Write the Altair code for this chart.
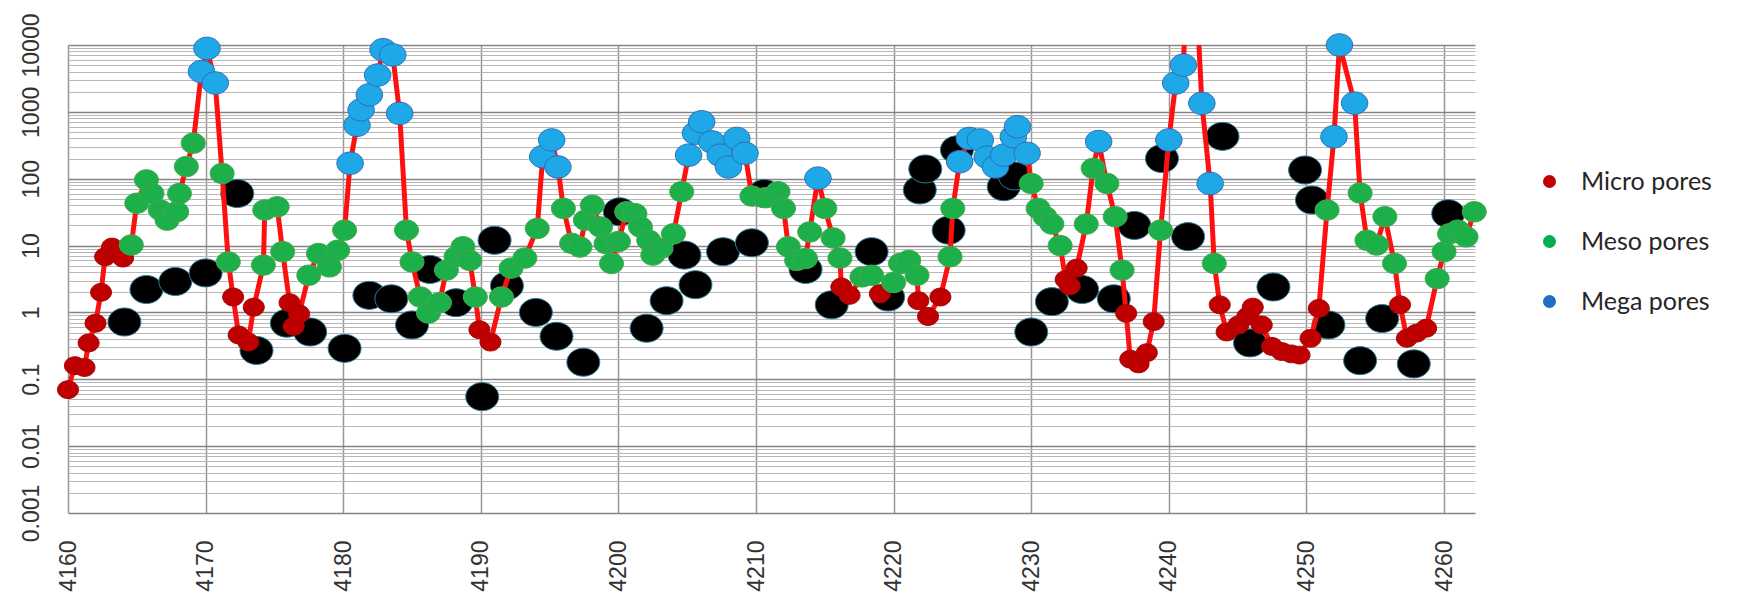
import altair as alt
import pandas as pd

# ---------------- data ----------------
depth = [
    4160.0, 4160.5, 4161.2, 4161.5, 4162.0, 4162.4, 4162.7, 4163.2, 4163.6, 4164.0,
    4164.6, 4165.0, 4165.7, 4166.1, 4166.7, 4167.2, 4167.9, 4168.1, 4168.6, 4169.1,
    4169.7, 4170.1, 4170.7, 4171.2, 4171.65, 4172.0, 4172.4, 4173.1, 4173.5, 4174.2,
    4174.3, 4175.2, 4175.6, 4176.1, 4176.4, 4176.8, 4177.5, 4178.2, 4179.0, 4179.6,
    4180.1, 4180.5, 4181.0, 4181.3, 4181.9, 4182.5, 4182.9, 4183.6, 4184.1, 4184.6,
    4185.0, 4185.6, 4186.2, 4187.0, 4187.5, 4188.2, 4188.7, 4189.2, 4189.6, 4189.9,
    4190.7, 4191.5, 4192.2, 4193.2, 4194.1, 4194.5, 4195.15, 4195.6, 4196.0, 4196.6,
    4197.2, 4197.6, 4198.1, 4198.7, 4199.1, 4199.5, 4200.0, 4200.6, 4201.2, 4201.6,
    4202.2, 4202.5, 4203.1, 4204.0, 4204.6, 4205.1, 4205.6, 4206.05, 4206.8, 4207.4,
    4208.0, 4208.6, 4209.2, 4209.7, 4210.7, 4211.6, 4212.0, 4212.35, 4212.95, 4213.6,
    4213.9, 4214.5, 4215.0, 4215.6, 4216.1, 4216.2, 4216.8, 4217.7, 4218.4, 4219.0,
    4220.0, 4220.5, 4221.1, 4221.7, 4221.8, 4222.5, 4223.4, 4224.1, 4224.3, 4224.8,
    4225.5, 4226.3, 4226.8, 4227.4, 4228.0, 4228.7, 4229.0, 4229.7, 4230.0, 4230.5,
    4231.0, 4231.5, 4232.1, 4232.5, 4232.8, 4233.3, 4234.0, 4234.5, 4234.9, 4235.5,
    4236.1, 4236.6, 4236.9, 4237.2, 4237.8, 4238.4, 4238.9, 4239.4, 4240.0, 4240.5,
    4241.06, 4241.3, 4241.95, 4242.4, 4243.0, 4243.3, 4243.7, 4244.2, 4245.05, 4245.7,
    4246.1, 4246.75, 4247.5, 4248.2, 4248.9, 4249.5, 4250.3, 4250.9, 4251.5, 4252.0,
    4252.4, 4253.5, 4253.9, 4254.4, 4255.1, 4255.7, 4256.4, 4256.8, 4257.3, 4258.0,
    4258.7, 4259.5, 4260.0, 4260.4, 4261.0, 4261.6, 4262.2,
]
value = [
    0.07, 0.16, 0.15, 0.35, 0.69, 2.0, 6.8, 9.5, 8.0, 6.5,
    10.2, 43, 96, 60, 34, 24, 32, 60, 152, 340,
    4000, 8900, 2700, 120, 5.7, 1.7, 0.46, 0.36, 1.2, 5.1,
    34, 38, 8.1, 1.4, 0.62, 0.95, 3.6, 7.6, 4.8, 8.5,
    17, 170, 630, 1070, 1800, 3550, 8500, 7100, 950, 17,
    5.7, 1.7, 0.98, 1.4, 4.3, 6.8, 9.6, 6.0, 1.7, 0.55,
    0.36, 1.7, 4.6, 6.5, 18, 214, 380, 150, 36, 10.8,
    9.5, 24, 40, 19, 10.7, 5.4, 11.5, 32, 30, 19,
    12, 7.2, 9.1, 15, 64, 225, 480, 710, 355, 225,
    150, 400, 240, 55, 52, 64, 36, 9.6, 6.0, 6.4,
    16, 102, 36, 13, 6.5, 2.4, 1.8, 3.4, 3.6, 1.9,
    2.8, 5.4, 6.0, 3.6, 1.5, 0.87, 1.7, 6.8, 36, 180,
    400, 380, 210, 150, 225, 425, 600, 240, 85, 36,
    27, 21, 10, 3.1, 2.5, 4.6, 21, 143, 360, 85,
    27, 4.3, 0.97, 0.2, 0.17, 0.25, 0.73, 17, 380, 2700,
    5000, 100000, 100000, 1340, 85, 5.4, 1.3, 0.51, 0.65, 0.87,
    1.2, 0.65, 0.31, 0.26, 0.24, 0.23, 0.41, 1.15, 34, 425,
    10000, 1350, 61, 12, 10.2, 27, 5.4, 1.3, 0.41, 0.49,
    0.58, 3.2, 8.1, 15, 17, 13.5, 32,
]
pore_class = (
    ["Micro pores"] * 10 + ["Meso pores"] * 10 + ["Mega pores"] * 3 + ["Meso pores"] * 2
    + ["Micro pores"] * 4 + ["Meso pores"] * 4 + ["Micro pores"] * 3 + ["Meso pores"] * 5
    + ["Mega pores"] * 8 + ["Meso pores"] * 10 + ["Micro pores"] * 2 + ["Meso pores"] * 4
    + ["Mega pores"] * 3 + ["Meso pores"] * 17 + ["Mega pores"] * 8 + ["Meso pores"] * 8
    + ["Mega pores"] * 1 + ["Meso pores"] * 3 + ["Micro pores"] * 2 + ["Meso pores"] * 2
    + ["Micro pores"] * 1 + ["Meso pores"] * 4 + ["Micro pores"] * 3 + ["Meso pores"] * 2
    + ["Mega pores"] * 9 + ["Meso pores"] * 5 + ["Micro pores"] * 3 + ["Meso pores"] * 2
    + ["Mega pores"] * 1 + ["Meso pores"] * 3 + ["Micro pores"] * 5 + ["Meso pores"] * 1
    + ["Mega pores"] * 7 + ["Meso pores"] * 1 + ["Micro pores"] * 12 + ["Meso pores"] * 1
    + ["Mega pores"] * 3 + ["Meso pores"] * 5 + ["Micro pores"] * 4 + ["Meso pores"] * 6
)

black_depth = [
    4164.1, 4165.7, 4167.8, 4170.0, 4172.3, 4173.7, 4175.9, 4177.6, 4180.1, 4181.9,
    4183.5, 4185.0, 4186.3, 4188.2, 4190.1, 4191.0, 4191.9, 4194.0, 4195.5, 4197.45,
    4200.1, 4202.05, 4203.5, 4204.8, 4205.6, 4207.6, 4209.7, 4210.6, 4213.6, 4215.5,
    4218.4, 4219.6, 4221.9, 4222.3, 4224.0, 4224.6, 4228.0, 4228.8, 4230.0, 4231.5,
    4233.7, 4236.0, 4237.5, 4239.5, 4241.4, 4243.9, 4245.9, 4247.6, 4249.9, 4250.4,
    4251.6, 4253.9, 4255.5, 4257.8, 4260.3,
]
black_value = [
    0.72, 2.2, 2.9, 3.9, 60, 0.27, 0.69, 0.51, 0.29, 1.8,
    1.6, 0.65, 4.4, 1.4, 0.055, 12, 2.5, 1.0, 0.44, 0.18,
    32, 0.58, 1.5, 7.2, 2.6, 8.1, 11, 60, 4.4, 1.3,
    8.1, 1.7, 68, 140, 17, 270, 76, 110, 0.51, 1.45,
    2.2, 1.6, 20, 200, 13.6, 430, 0.35, 2.4, 135, 48,
    0.65, 0.19, 0.81, 0.17, 30,
]

x_ticks = [4160, 4170, 4180, 4190, 4200, 4210, 4220, 4230, 4240, 4250, 4260]
y_decades = [0.001, 0.01, 0.1, 1, 10, 100, 1000, 10000]
minor_steps = [2, 3, 4, 5, 6, 7, 8, 9]
classes = ["Micro pores", "Meso pores", "Mega pores"]

# ---------------- styling ----------------
marker_fill = {"Micro pores": "#C00000", "Meso pores": "#1DAF4A", "Mega pores": "#1FA8E8"}
marker_stroke = {"Micro pores": "#9E0A0A", "Meso pores": "#46A84E", "Mega pores": "#2F6DB3"}
marker_size = {"Micro pores": 441, "Meso pores": 576, "Mega pores": 700}
legend_colors = ["#C00000", "#00B050", "#1F6FC0"]
ELLIPSE = "M -1 0 A 1 0.85 0 1 0 1 0 A 1 0.85 0 1 0 -1 0 Z"

y_grid_values = sorted(y_decades + [round(d * m, 6) for d in y_decades[:-1] for m in minor_steps])
is_decade = "abs(log(datum.value)/LN10 - round(log(datum.value)/LN10)) < 0.001"

line_df = pd.DataFrame({"depth": depth, "value": value, "cls": pore_class})
black_df = pd.DataFrame({"depth": black_depth, "value": black_value})

x_enc = alt.X(
    "depth:Q",
    scale=alt.Scale(domain=[4160, 4262.25], nice=False, zero=False),
    axis=alt.Axis(
        values=x_ticks, title=None, grid=True, gridColor="#969696", gridWidth=1.5,
        ticks=False, domain=False, labelAngle=270, labelAlign="right", labelBaseline="middle",
        labelPadding=27, labelFont="Liberation Sans", labelFontSize=23, labelColor="#333333",
        labelFlush=False, labelOverlap=False, format="d",
    ),
)
y_enc = alt.Y(
    "value:Q",
    scale=alt.Scale(type="log", domain=[0.001, 10000], nice=False),
    axis=alt.Axis(
        values=y_grid_values, title=None, grid=True,
        gridColor={"condition": {"test": is_decade, "value": "#858585"}, "value": "#b8b8b8"},
        gridWidth={"condition": {"test": is_decade, "value": 1.6}, "value": 1},
        ticks=False, domain=False, labelAngle=270, labelAlign="center", labelBaseline="alphabetic",
        labelPadding=30, labelFont="Liberation Sans", labelFontSize=23, labelColor="#333333",
        labelExpr=f"{is_decade} ? format(datum.value, '~g') : ''",
        labelOverlap=False, labelFlush=False, labelBound=False,
    ),
)

black_layer = alt.Chart(black_df).mark_point(
    filled=True, shape=ELLIPSE, size=1089, fill="#000000", stroke="#2E7E96",
    strokeWidth=1, opacity=1,
).encode(x=x_enc, y=y_enc)

line_layer = alt.Chart(line_df).mark_line(
    color="#FF1010", strokeWidth=5, clip=True
).encode(x=x_enc, y=y_enc)

point_layers = []
for c in classes:
    point_layers.append(
        alt.Chart(line_df)
        .transform_filter(f"datum.cls == '{c}' && datum.value <= 10000")
        .mark_point(
            filled=True, shape=ELLIPSE, size=marker_size[c], fill=marker_fill[c],
            stroke=marker_stroke[c], strokeWidth=1, opacity=1,
        )
        .encode(x=x_enc, y=y_enc)
    )

legend_layer = alt.Chart(line_df).transform_filter("false").mark_point(
    filled=True, shape="circle", opacity=1
).encode(
    x=x_enc, y=y_enc,
    color=alt.Color(
        "cls:N",
        scale=alt.Scale(domain=classes, range=legend_colors),
        legend=alt.Legend(
            orient="none", legendX=1469, legendY=124, title=None, padding=0,
            labelFont="Lato", labelFontSize=25, labelColor="#262626",
            symbolType="circle", symbolSize=170, symbolStrokeWidth=0, symbolOpacity=1,
            rowPadding=34, labelOffset=19, direction="vertical",
        ),
    ),
)

chart = (
    alt.layer(black_layer, line_layer, *point_layers, legend_layer)
    .properties(
        width=1407, height=468,
        padding={"left": 60, "top": 37, "right": 255, "bottom": 80},
        autosize=alt.AutoSizeParams(type="none"),
        background="white",
    )
    .configure_view(stroke=None)
)

chart.save("out.html", embed_options={"renderer": "svg", "actions": False})
